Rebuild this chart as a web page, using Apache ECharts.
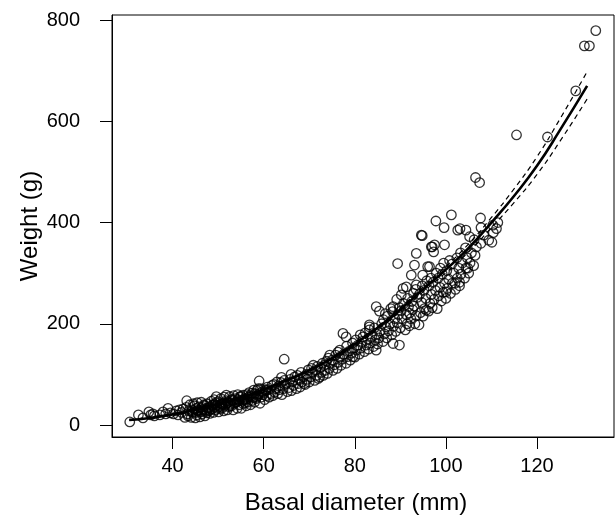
<!DOCTYPE html>
<html>
<head>
<meta charset="utf-8">
<script src="https://cdn.jsdelivr.net/npm/echarts@6/dist/echarts.min.js"></script>
<style>
html,body{margin:0;padding:0;background:#fff;}
#chart{width:615px;height:515px;}
</style>
</head>
<body>
<div id="chart"></div>
<script>
// ---- data ----
const xTicks = [40, 60, 80, 100, 120];
const yTicks = [0, 200, 400, 600, 800];

const obsSmall = [
[30.6,6],[32.5,20],[33.5,14],[34.8,26],[35.2,20],[35.7,22],[36.0,18],[37.2,20],[37.9,26],[38.5,22],
[39.0,33],[39.5,24],[40.2,22],[40.8,28],[41.2,20],[41.5,30],[42.0,25],[42.3,32],[42.7,15],[43.1,48]
];

const obsBand1 = [
[43.3,22],[43.6,28],[43.0,35],[43.8,40],[43.4,18],
[44.1,15],[44.5,25],[44.3,30],[44.8,38],[44.6,42],[44.2,27],
[45.0,14],[45.3,20],[45.6,28],[45.2,33],[45.8,36],[45.4,44],[45.1,25],[45.7,30],
[46.0,16],[46.4,22],[46.2,26],[46.7,31],[46.5,35],[46.9,40],[46.3,45],[46.6,29],
[47.1,18],[47.5,24],[47.3,30],[47.8,34],[47.0,38],[47.6,42],[47.4,27],[47.9,33],
[48.2,23],[48.0,28],[48.6,32],[48.3,36],[48.8,40],[48.5,47],[48.1,30],[48.7,38],
[49.0,25],[49.4,30],[49.2,35],[49.7,39],[49.5,44],[49.1,50],[49.8,33],[49.3,41],[49.6,56],
[50.1,26],[50.5,32],[50.3,37],[50.8,42],[50.0,46],[50.6,52],[50.4,35],[50.9,40],
[51.2,28],[51.0,34],[51.6,39],[51.4,44],[51.8,48],[51.3,55],[51.7,42],[51.8,59],
[52.0,30],[52.4,36],[52.7,41],[52.2,46],[52.9,50],[52.5,56],[52.1,44],[52.6,38],
[53.3,30],[53.0,38],[53.6,43],[53.2,48],[53.8,52],[53.4,58],[53.7,45],[53.1,50],
[54.2,33],[54.6,40],[54.0,45],[54.4,50],[54.8,55],[54.3,60],[54.7,48],
[55.1,33],[55.5,42],[55.3,47],[55.8,52],[55.0,57],[55.5,59],[55.6,50],[55.9,44],
[56.2,38],[56.5,45],[56.0,50],[56.7,55],[56.3,60],[56.8,64],[56.4,52],
[57.1,40],[57.4,48],[57.7,54],[57.0,58],[57.5,63],[57.8,69],[57.3,56],
[58.0,45],[58.3,52],[58.7,58],[58.1,62],[58.5,68],[58.8,72],[58.4,55],
[59.2,43],[59.5,55],[59.0,62],[59.7,66],[59.3,72],[59.0,87],[59.8,60],
[60.2,50],[60.6,58],[60.0,64],[60.4,70],[60.8,75],[60.5,68]
];

const obsBand2 = [
[61.2,55],[61.5,62],[61.0,70],[61.8,78],
[62.0,58],[62.4,65],[62.7,72],[62.2,80],[62.9,85],
[63.1,62],[63.5,70],[63.3,77],[63.8,84],
[64.0,60],[64.3,72],[64.7,80],[64.5,88],[63.9,94],[64.5,130],
[65.2,66],[65.6,74],[65.0,82],[65.8,90],
[66.1,68],[66.5,78],[66.3,86],[66.8,95],[66.0,100],
[67.2,72],[67.6,82],[67.9,90],[67.4,98],
[68.0,75],[68.4,85],[68.7,95],[68.2,104],[68.9,82],
[69.1,80],[69.5,90],[69.4,100],[69.8,109],
[70.0,85],[70.3,95],[70.7,104],[70.5,112],[70.9,118],
[71.2,88],[71.6,98],[71.4,108],[71.8,116],
[72.0,92],[72.3,95],[72.7,104],[72.5,114],[72.9,122],
[73.1,98],[73.5,108],[73.3,118],[73.8,126],
[74.0,102],[74.4,112],[74.7,122],[74.2,132],[74.5,138],
[75.2,108],[75.5,119],[75.0,128],[75.8,138],
[76.1,112],[76.4,124],[76.7,134],[76.3,144],
[77.0,118],[77.3,130],[77.6,140],[76.7,148],[77.4,181],
[78.1,122],[78.4,135],[78.8,146],[78.2,156],[78.1,174],
[79.0,128],[79.6,135],[79.3,142],[79.8,152],[79.5,162],
[80.0,134],[80.4,148],[80.7,158],[80.2,168]
];

const obsBand3 = [
[81.0,140],[81.3,152],[81.6,165],[81.8,174],[81.2,178],
[82.1,145],[82.5,158],[82.8,170],[82.3,182],
[83.0,150],[83.4,162],[83.7,175],[83.2,188],[83.2,194],[83.2,198],
[84.1,155],[84.5,168],[84.8,180],[84.3,192],[84.7,148],
[85.0,160],[85.3,172],[85.6,186],[85.9,200],[85.4,225],[84.7,234],
[86.2,165],[86.5,180],[86.8,194],[86.3,208],[86.7,220],
[87.0,172],[87.4,186],[87.7,200],[87.2,215],[87.9,230],
[88.1,178],[88.5,195],[88.8,210],[88.3,224],[88.4,234],[88.4,161],
[89.0,185],[89.3,202],[89.6,218],[89.8,232],[89.2,248],[89.4,319],
[89.8,158],[90.0,192],[90.4,210],[90.2,226],[90.7,240],[90.2,257],[90.6,270],
[91.1,188],[91.5,200],[91.3,218],[91.8,234],[91.6,250],[91.3,273],
[92.0,196],[92.3,210],[92.7,228],[92.5,244],[92.9,260],[92.4,296],[92.0,221],
[93.2,200],[93.5,216],[93.0,235],[93.7,252],[93.4,268],[93.5,277],[93.1,316],[93.5,339],
[94.1,198],[94.4,222],[94.7,242],[94.2,258],[94.8,275],[94.9,296],
[95.0,215],[95.3,230],[95.6,250],[95.2,266],[95.8,285],[95.7,227],[96.0,313],[94.8,374],[94.6,375],
[96.2,225],[96.5,240],[96.8,258],[96.3,275],[96.7,290],[96.4,313],[96.8,352],
[97.0,232],[97.4,248],[97.7,266],[97.2,282],[97.9,300],[97.3,342],[97.5,356],[97.0,352],
[98.1,230],[98.4,255],[98.7,272],[98.3,290],[98.8,310],[97.8,403],
[99.0,245],[99.4,262],[99.7,280],[99.2,298],[99.5,320],[99.7,356],[99.6,390],
[100.0,250],[100.3,270],[100.6,288],[100.2,305],[100.8,325],[100.0,263]
];

const obsLarge = [
[101.2,415],[101.0,260],[101.4,280],[101.7,300],[101.3,318],
[102.1,268],[102.5,290],[102.8,310],[102.4,330],[102.0,280],
[103.0,275],[103.3,298],[103.6,320],[103.2,340],[102.6,385],[103.1,388],[103.0,282],
[104.1,290],[104.4,310],[104.7,330],[104.3,350],[104.4,385],
[105.0,300],[105.3,320],[105.6,340],[104.8,310],[105.2,372],
[106.1,315],[106.4,335],[106.7,352],[106.2,366],
[106.5,489],[107.4,479],
[107.6,409],[107.7,390],[107.7,359],
[108.3,375],[109.4,365],
[110.1,361],[110.4,380],[110.3,395],
[111.1,388],[111.4,400],
[115.5,573],[122.3,569],[128.5,660],[130.4,749],[131.5,749],[132.9,779]
];

const fitX   = [30.5, 35, 40, 45, 50, 55, 60, 65, 70, 75, 80, 85, 90, 95, 100, 105, 110, 115, 120, 125, 131];
const fitY   = [10, 14, 21, 30, 41, 54, 70, 88, 108, 132, 160, 192, 228, 268, 307, 350, 400, 453, 512, 582, 670];
const upperY = [11, 15, 22, 31, 42, 55, 71, 89.5, 110, 134, 163, 195, 232, 273, 313, 358, 410, 467, 530, 604, 698];
const lowerY = [9, 13, 20, 29, 40, 53, 69, 86.5, 106, 130, 157, 189, 224, 263, 301, 342, 390, 440, 495, 560, 644];

// ---- chart ----
const observations = [].concat(obsSmall, obsBand1, obsBand2, obsBand3, obsLarge);
const pairs = (xs, ys) => xs.map((x, i) => [x, ys[i]]);
const FONT = "'Liberation Sans', Arial, Helvetica, sans-serif";

const chart = echarts.init(document.getElementById('chart'), null, {renderer: 'canvas'});
chart.setOption({
  animation: false,
  backgroundColor: '#fff',
  grid: {left: 112, right: 1, top: 15, bottom: 78, show: true, borderColor: '#000', borderWidth: 1,
         containLabel: false, outerBoundsMode: 'none'},
  xAxis: {
    type: 'value', min: 26.7, max: 136.9,
    axisLine: {show: true, onZero: false, lineStyle: {color: '#000', width: 1}},
    axisTick: {show: true, length: 12, customValues: xTicks, lineStyle: {color: '#000', width: 1}},
    axisLabel: {customValues: xTicks, margin: 19, fontSize: 20, color: '#000', fontFamily: FONT},
    splitLine: {show: false}
  },
  yAxis: {
    type: 'value', min: -23.7, max: 810,
    axisLine: {show: true, onZero: false, lineStyle: {color: '#000', width: 1}},
    axisTick: {show: true, length: 12, customValues: yTicks, lineStyle: {color: '#000', width: 1}},
    axisLabel: {customValues: yTicks, margin: 32, fontSize: 20, color: '#000', fontFamily: FONT},
    splitLine: {show: false}
  },
  graphic: [
    {type: 'text', x: 356, y: 503, style: {text: 'Basal diameter (mm)', fontSize: 24, fontFamily: FONT,
      fill: '#000', textAlign: 'center', textVerticalAlign: 'middle'}},
    {type: 'text', x: 30, y: 226, rotation: Math.PI / 2, style: {text: 'Weight (g)', fontSize: 24, fontFamily: FONT,
      fill: '#000', textAlign: 'center', textVerticalAlign: 'middle'}}
  ],
  series: [
    {type: 'scatter', data: observations, symbol: 'circle', symbolSize: 9.5, z: 2,
     itemStyle: {color: 'rgba(0,0,0,0)', borderColor: '#000', borderWidth: 1.3}},
    {type: 'line', data: pairs(fitX, fitY), showSymbol: false, smooth: true, z: 3,
     lineStyle: {color: '#000', width: 2.6}},
    {type: 'line', data: pairs(fitX, upperY), showSymbol: false, smooth: true, z: 3,
     lineStyle: {color: '#000', width: 1.2, type: [5, 4]}},
    {type: 'line', data: pairs(fitX, lowerY), showSymbol: false, smooth: true, z: 3,
     lineStyle: {color: '#000', width: 1.2, type: [5, 4]}}
  ]
});
</script>
</body>
</html>
